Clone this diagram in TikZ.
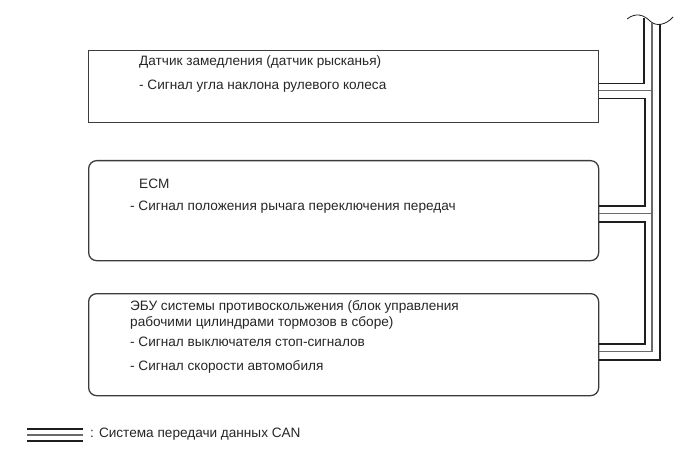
\documentclass[tikz,border=0pt]{standalone}
\usepackage{fontspec}
\setmainfont{Liberation Sans}
\usepackage{xcolor}
\usepackage{tikz}
\usetikzlibrary{positioning, calc}
\definecolor{boxedge}{HTML}{3C3C3C}
\definecolor{wiredark}{HTML}{1E1E1E}
\definecolor{wiremid}{HTML}{6A6A6A}
\definecolor{textmain}{HTML}{262626}
\tikzstyle{unit} = [rectangle, draw=boxedge, line width=1.3pt, anchor=north west, minimum width=510pt, inner sep=0pt]
\tikzstyle{unitr} = [unit, rounded corners=8pt]
\tikzstyle{unittext} = [anchor=west, inner sep=0pt, text=textmain, font=\fontsize{13.6}{16}\selectfont]
\tikzstyle{canline} = [line width=1.7pt, color=wiredark]
\tikzstyle{canmid} = [line width=1.1pt, color=wiremid]
\tikzstyle{breakmark} = [line width=0.8pt, color=wiredark]

\begin{document}
\begin{tikzpicture}[x=1pt, y=-1pt]
    % CAN communication overview
    \useasboundingbox (0,0) rectangle (690,465);

    \node[unit, minimum height=72pt] (dtr) at (88,50) {};
    \node[unitr, minimum height=100pt] (ecm) at (88,160) {};
    \node[unitr, minimum height=102pt] (ebu) at (88,293) {};

    \node[unittext] (dtr-name) at (139,62) {Датчик замедления (датчик рысканья)};
    \node[unittext] (dtr-sig) at (139,86) {- Сигнал угла наклона рулевого колеса};
    \node[unittext] (ecm-name) at (139,184) {ECM};
    \node[unittext] (ecm-sig) at (130,207) {- Сигнал положения рычага переключения передач};
    \node[unittext] (ebu-name1) at (130,307) {ЭБУ системы противоскольжения (блок управления};
    \node[unittext] (ebu-name2) at (130,323) {рабочими цилиндрами тормозов в сборе)};
    \node[unittext] (ebu-sig1) at (130,342) {- Сигнал выключателя стоп-сигналов};
    \node[unittext] (ebu-sig2) at (130,367) {- Сигнал скорости автомобиля};

    % bus break mark
    \draw[breakmark] (627,19) .. controls (636,12) and (644,15) .. (650,21) .. controls (656,27) and (666,25) .. (673,17);
    \coordinate (busl) at (644,18);
    \coordinate (busm) at (652,23);
    \coordinate (busr) at (660,24);

    \draw[canline] (busl) |- ([yshift=3pt]dtr.east);
    \draw[canline] ([yshift=-12pt]dtr.east) -- ++(46,0) |- ([yshift=5pt]ecm.east);
    \draw[canline] ([yshift=-11pt]ecm.east) -- ++(46,0) |- ([yshift=1pt]ebu.east);
    \draw[canmid] (busm) |- ([yshift=-7pt]ebu.east);
    \draw[canmid] ([yshift=-4pt]dtr.east) -- ++(54,0);
    \draw[canmid] ([yshift=-3pt]ecm.east) -- ++(54,0);
    \draw[canline] (busr) |- ([yshift=-15pt]ebu.east);

    % legend
    \coordinate (lgd) at (27,435);
    \draw[canline] ([yshift=6pt]lgd) -- ++(56,0);
    \draw[canmid] (lgd) -- ++(56,0);
    \draw[canline] ([yshift=-6pt]lgd) -- ++(56,0);
    \node[unittext] (lgd-text) at (90,434) {: Система передачи данных CAN};
\end{tikzpicture}
\end{document}
